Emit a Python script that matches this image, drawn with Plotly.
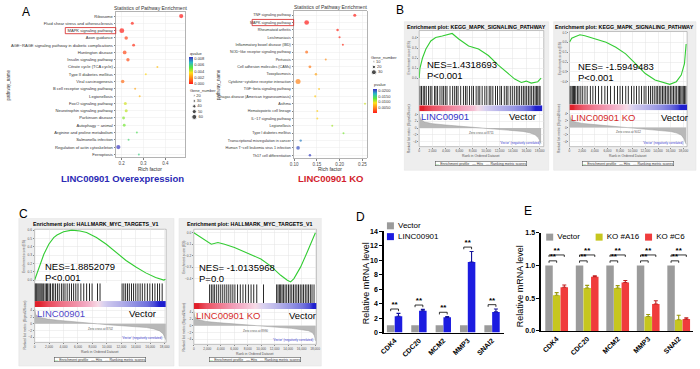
import plotly.graph_objects as go

W, H = 700, 369
FONT = "Liberation Sans, Arial, sans-serif"

# ---------------- Panel A (left): KEGG enrichment, LINC00901 overexpression ----------------
a_pathways = ["Ribosome", "Fluid shear stress and atherosclerosis", "MAPK signaling pathway", "Axon guidance",
              "AGE\u2212RAGE signaling pathway in diabetic complications", "Huntington disease",
              "Insulin signaling pathway", "Citrate cycle (TCA cycle)", "Type II diabetes mellitus",
              "Viral carcinogenesis", "B cell receptor signaling pathway", "Legionellosis",
              "FoxO signaling pathway", "Neurotrophin signaling pathway", "Parkinson disease",
              "Autophagy \u2212 animal", "Arginine and proline metabolism", "Salmonella infection",
              "Regulation of actin cytoskeleton", "Ferroptosis"]
a_rich = [0.473, 0.249, 0.201, 0.221, 0.255, 0.214, 0.229, 0.364, 0.311, 0.205,
          0.262, 0.283, 0.217, 0.221, 0.209, 0.212, 0.270, 0.232, 0.185, 0.279]
a_genes = [50, 36, 58, 42, 34, 45, 40, 14, 15, 42, 19, 16, 36, 36, 34, 34, 15, 18, 50, 13]
a_qvalue = [0.0000, 0.0002, 0.0001, 0.0007, 0.0004, 0.0008, 0.0009, 0.0030, 0.0034, 0.0014,
            0.0025, 0.0028, 0.0040, 0.0042, 0.0047, 0.0049, 0.0055, 0.0058, 0.0084, 0.0060]
a_gene_legend = [20, 30, 40, 50, 60]
a_q_ticks = [0.000, 0.002, 0.004, 0.006, 0.008]

# ---------------- Panel A (right): KEGG enrichment, LINC00901 KO ----------------
ko_pathways = ["TNF signaling pathway", "MAPK signaling pathway", "Rheumatoid arthritis", "Leishmaniasis",
               "Inflammatory bowel disease (IBD)", "NOD\u2212like receptor signaling pathway", "Pertussis",
               "Cell adhesion molecules (CAMs)", "Toxoplasmosis", "Cytokine\u2212cytokine receptor interaction",
               "TGF\u2212beta signaling pathway", "Chagas disease (American trypanosomiasis)", "Asthma",
               "Hematopoietic cell lineage", "IL\u221217 signaling pathway", "Legionellosis",
               "Type I diabetes mellitus", "Transcriptional misregulation in cancer",
               "Human T\u2212cell leukemia virus 1 infection", "Th17 cell differentiation"]
ko_rich = [0.2335, 0.1276, 0.1957, 0.2000, 0.2074, 0.1276, 0.1696, 0.1348, 0.1480, 0.1087,
           0.1550, 0.1465, 0.2560, 0.1510, 0.1510, 0.1840, 0.2087, 0.1145, 0.1087, 0.1348]
ko_genes = [18, 28, 15, 13, 12, 18, 11, 17, 15, 30, 11, 13, 6, 12, 12, 8, 7, 14, 22, 15]
ko_pvalue = [0.0003, 0.0001, 0.0005, 0.0006, 0.0008, 0.0035, 0.0050, 0.0040, 0.0060, 0.0045,
             0.0075, 0.0078, 0.0100, 0.0080, 0.0082, 0.0110, 0.0120, 0.0185, 0.0200, 0.0205]
ko_gene_legend = [10, 20, 30]
ko_p_ticks = [0.005, 0.010, 0.015, 0.020]

# ---------------- Panel B: GSEA KEGG_MAPK_SIGNALING_PATHWAY ----------------
bl_rank = [0, 100, 490, 1000, 1730, 2460, 3440, 4430, 4920, 5900, 7380, 8860, 10330, 11810,
           13280, 14270, 15250, 15990, 16730, 17710, 18200]
bl_es = [0.0, 0.094, 0.2, 0.29, 0.37, 0.405, 0.42, 0.44, 0.445, 0.39, 0.32, 0.29, 0.225, 0.13,
         0.045, -0.01, -0.043, -0.03, -0.05, -0.036, 0.0]
bl_hits = [120, 350, 600, 820, 1050, 1400, 1650, 1900, 2300, 2500, 2750, 3100, 3400, 3650, 3900,
           4150, 4600, 5000, 5300, 5550, 5800, 6200, 6600, 6900, 7150, 7500, 7850, 8100, 8500,
           8800, 9050, 9400, 9800, 10100, 10450, 10700, 11000, 11400, 11700, 12050, 12300, 12700,
           13000, 13250, 13600, 13900, 14200, 14500, 14750, 15000, 15300, 15550, 15800, 16050,
           16300, 16550, 16800, 17050, 17300, 17500, 17700, 17900, 18050]
bl_mrank = [0, 200, 800, 2000, 4000, 6000, 8000, 8700, 10000, 12000, 14000, 15500, 16500, 17300, 17800, 18200]
bl_metric = [4.2, 2.6, 1.8, 1.3, 0.9, 0.6, 0.25, 0.0, -0.2, -0.45, -0.7, -1.0, -1.4, -2.0, -2.9, -4.6]

br_rank = [0, 357, 884, 1659, 2434, 3209, 4232, 5782, 7332, 8882, 10432, 11982, 13532, 15082,
           15857, 16895, 17670, 18182, 18445]
br_es = [0.0, 0.043, 0.057, 0.077, 0.067, 0.05, 0.033, 0.0, -0.05, -0.117, -0.217, -0.317,
         -0.383, -0.417, -0.427, -0.4, -0.333, -0.217, -0.017]
br_hits = [80, 250, 450, 650, 800, 1000, 1250, 1500, 1800, 2100, 2450, 2800, 3300, 3700, 4100,
           4600, 5100, 5600, 6000, 6500, 7100, 7600, 8000, 8400, 8900, 9300, 9800, 10200, 10600,
           11000, 11400, 11800, 12100, 12500, 12800, 13100, 13400, 13700, 13950, 14200, 14450,
           14700, 14950, 15200, 15450, 15700, 15950, 16200, 16450, 16700, 16950, 17200, 17400,
           17600, 17800, 18000, 18200, 18400]
br_mrank = [0, 200, 800, 2000, 4000, 6000, 8000, 9000, 10500, 12500, 14500, 16000, 17000, 17700, 18100, 18450]
br_metric = [4.0, 2.5, 1.7, 1.2, 0.85, 0.55, 0.2, 0.0, -0.25, -0.5, -0.8, -1.15, -1.6, -2.2, -3.2, -4.8]

# ---------------- Panel C: GSEA HALLMARK_MYC_TARGETS_V1 ----------------
cl_rank = [0, 592, 1274, 1957, 2639, 3094, 4004, 5142, 6279, 7189, 8554, 9919, 11284, 12649,
           14014, 15379, 16744, 17882, 18109]
cl_es = [0.0, 0.157, 0.31, 0.43, 0.51, 0.54, 0.58, 0.60, 0.59, 0.57, 0.51, 0.43, 0.33, 0.235,
         0.157, 0.086, 0.03, 0.0, 0.01]
cl_hits = [60, 180, 300, 450, 600, 750, 900, 1050, 1250, 1450, 1650, 1800, 2000, 2200, 2450, 2650,
           2900, 3150, 3400, 3700, 3950, 4200, 4500, 4800, 5100, 5400, 5700, 6000, 6400, 6800,
           7200, 7600, 7950, 8700, 9050, 12100, 12350, 12600, 12850, 13100, 13400, 13700, 14000,
           14300, 14600, 14900, 15250, 15600, 15950, 16300, 16650, 17000, 17300, 17650]
cl_mrank = [0, 150, 700, 1800, 3500, 5500, 7500, 8700, 10000, 12000, 14000, 15500, 16500, 17300, 17800, 18150]
cl_metric = [4.5, 2.7, 1.9, 1.4, 1.0, 0.7, 0.35, 0.0, -0.25, -0.5, -0.8, -1.1, -1.5, -2.1, -3.0, -4.7]

cr_rank = [0, 1128, 2110, 2600, 3581, 4563, 6034, 7997, 9959, 11431, 12903, 13884, 14375,
           14866, 15847, 16828, 17564, 18054]
cr_es = [0.0, -0.043, -0.086, -0.1, -0.086, -0.1, -0.129, -0.177, -0.229, -0.291, -0.371,
         -0.414, -0.429, -0.4, -0.3, -0.171, -0.071, 0.0]
cr_hits = [2350, 2600, 2850, 3100, 3400, 3700, 4000, 4300, 4600, 4900, 5200, 5500, 5800, 6100,
           6500, 6900, 7300, 7700, 8100, 8500, 8900, 9350, 10350, 12300, 12500, 12700, 12900,
           13100, 13300, 13550, 13800, 14050, 14300, 14550, 14800, 15050, 15300, 15550, 15800,
           16050, 16300, 16550, 16800, 17050, 17300, 17550, 17850]
cr_mrank = [0, 150, 700, 1800, 3500, 5500, 7500, 9000, 10500, 12500, 14500, 16000, 17000, 17600, 17900, 18100]
cr_metric = [4.3, 2.6, 1.8, 1.3, 0.95, 0.6, 0.3, 0.0, -0.2, -0.45, -0.75, -1.05, -1.45, -2.0, -2.9, -4.5]

rank_ticks = [0, 2000, 4000, 6000, 8000, 10000, 12000, 14000, 16000, 18000]
metric_ticks = [-4, -2, 0, 2, 4]

# ---------------- Panels D / E: qPCR ----------------
qpcr_genes = ["CDK4", "CDC20", "MCM2", "MMP3", "SNAI2"]
d_series = ["Vector", "LINC00901"]
d_vector = [1.0, 1.0, 1.0, 1.0, 1.0]
d_linc = [2.25, 3.0, 2.1, 9.75, 2.85]
d_linc_err = [0.4, 0.2, 0.1, 1.45, 0.4]
d_ticks = [0, 2, 4, 6, 8, 10, 12, 14]
e_series = ["Vector", "KO #A16", "KO #C6"]
e_vector = [1.0, 1.0, 1.0, 1.0, 1.0]
e_a16 = [0.545, 0.656, 0.656, 0.22, 0.17]
e_a16_err = [0.04, 0.04, 0.035, 0.03, 0.07]
e_c6 = [0.667, 0.827, 0.74, 0.41, 0.18]
e_c6_err = [0.035, 0.015, 0.03, 0.05, 0.02]
e_ticks = [0.0, 0.5, 1.0, 1.5]

# ---------------- styles ----------------
DOT_CS = [[0.0, "#ff1a1a"], [0.2, "#ff7f1a"], [0.42, "#ffe01a"], [0.6, "#5ee83a"],
          [0.8, "#2bb8c8"], [1.0, "#3a2fc0"]]
GRAD_CS = [[0.0, "#1f1fcf"], [0.3, "#8c8ce2"], [0.46, "#d9d2f0"], [0.5, "#f7dbe7"],
           [0.62, "#f2a6c0"], [0.8, "#ec5a6c"], [1.0, "#e0202a"]]
GRAY, BLUE, YEL, RED = "#9b9b9b", "#1c1ce0", "#c6c61e", "#f03c3c"

fig = go.Figure()
axes = {}
count = [0]
annotations = []
shapes = []


def new_axes(x0, y0, x1, y1, xa=None, ya=None):
    count[0] += 1
    i = count[0]
    s = "" if i == 1 else str(i)
    base = dict(showgrid=False, zeroline=False, showticklabels=False, ticks="", showline=False,
                fixedrange=True)
    xd = dict(base, domain=[x0 / W, x1 / W], anchor="y" + s)
    yd = dict(base, domain=[1 - y1 / H, 1 - y0 / H], anchor="x" + s)
    if xa:
        xd.update(xa)
    if ya:
        yd.update(ya)
    axes["xaxis" + s] = xd
    axes["yaxis" + s] = yd
    return "x" + s, "y" + s


def text(x, y, s, size, color="black", bold=False, angle=0, xanchor="center", yanchor="middle", **kw):
    if bold:
        s = "<b>" + s + "</b>"
    d = dict(x=x / W, y=1 - y / H, xref="paper", yref="paper", text=s, showarrow=False,
             font=dict(size=size, color=color, family=FONT), textangle=angle,
             xanchor=xanchor, yanchor=yanchor, borderpad=0)
    d.update(kw)
    annotations.append(d)


# ================= Dot plots =================
def dot_plot(box, paths, rich, genes, pv, xr, xticks, sizeref, cmax, lab_font, cb_box, cticks, cfmt,
             box_x0, leg_box, leg_vals, leg_range):
    grid = dict(showgrid=True, gridcolor="#ebebeb", gridwidth=0.5, showline=True, linecolor="#808080",
                linewidth=0.6, mirror=True, ticks="outside", ticklen=1.5, tickcolor="#808080")
    xa, ya = new_axes(*box,
                      xa=dict(grid, range=xr, tickvals=xticks, showticklabels=True,
                              tickfont=dict(size=4.5, color="#4d4d4d", family=FONT)),
                      ya=dict(grid, type="category", categoryorder="array", categoryarray=paths[::-1],
                              range=[-0.42, len(paths) - 0.42], showticklabels=True,
                              tickfont=dict(size=lab_font, color="#333333", family=FONT)))
    cx0, cy0, cx1, cy1 = cb_box
    fig.add_trace(go.Scatter(
        x=rich, y=paths, mode="markers", xaxis=xa, yaxis=ya,
        marker=dict(size=genes, sizemode="diameter", sizeref=sizeref, sizemin=1, color=pv, cmin=0,
                    cmax=cmax, colorscale=DOT_CS, line=dict(width=0), showscale=True,
                    colorbar=dict(x=cx0 / W, xanchor="left", y=1 - (cy0 + cy1) / 2 / H, yanchor="middle",
                                  len=cy1 - cy0, lenmode="pixels", thickness=cx1 - cx0, xpad=0, ypad=0,
                                  outlinewidth=0, tickvals=cticks, tickformat=cfmt, ticks="",
                                  tickfont=dict(size=4, color="#333333", family=FONT)))))
    idx = len(paths) - 1 - paths.index("MAPK signaling pathway")
    shapes.append(dict(type="rect", xref="paper", yref=ya, x0=box_x0 / W, x1=box[0] / W,
                       y0=idx - 0.42, y1=idx + 0.42, line=dict(color="#d42020", width=0.8)))
    lx, ly = new_axes(*leg_box, xa=dict(range=[-1, 5]), ya=dict(range=leg_range))
    fig.add_trace(go.Scatter(x=[0] * len(leg_vals), y=leg_vals, mode="markers+text", xaxis=lx, yaxis=ly,
                             text=[str(v) for v in leg_vals], textposition="middle right",
                             textfont=dict(size=4, color="#333333", family=FONT), cliponaxis=False,
                             marker=dict(size=leg_vals, sizemode="diameter", sizeref=sizeref,
                                         color="black")))


dot_plot((113, 9, 183, 157), a_pathways, a_rich, a_genes, a_qvalue, [0.173, 0.49], [0.2, 0.3, 0.4],
         12, 0.0085, 4.1, (187, 55, 191, 82), a_q_ticks, ".3f", 62, (188, 91.5, 215, 118.5),
         a_gene_legend, [65, 15])
dot_plot((293, 8, 367, 158), ko_pathways, ko_rich, ko_genes, ko_pvalue, [0.099, 0.26],
         [0.10, 0.15, 0.20, 0.25], 6, 0.021, 3.7, (373, 88, 376.5, 112), ko_p_ticks, ".4f", 251,
         (370, 57, 395, 73), ko_gene_legend, [35, 5])
axes["xaxis3"]["tickformat"] = ".2f"

text(148, 5, "Statistics of Pathway Enrichment", 5, color="#333333")
text(330, 4, "Statistics of Pathway Enrichment", 5, color="#333333")
text(148, 168.5, "Rich factor", 5, color="#333333")
text(330, 168.5, "Rich factor", 5, color="#333333")
text(5, 83, "pathway_name", 4.5, color="#333333", angle=-90)
text(217, 83, "pathway_name", 4.5, color="#333333", angle=-90)
text(187, 51, "qvalue", 4, color="#333333", xanchor="left")
text(187, 89, "Gene_number", 4, color="#333333", xanchor="left")
text(370, 55, "Gene_number", 4, color="#333333", xanchor="left")
text(373, 83, "pvalue", 4, color="#333333", xanchor="left")
text(120, 178, "LINC00901 Overexpression", 9.5, color="#2a2ab4", bold=True)
text(330, 178, "LINC00901 KO", 9.5, color="#d21e2d", bold=True)


# ================= GSEA panels =================
def gsea(frame, px0, px1, ys, xmax, title, es_r, es_v, es_range, es_ticks, hits, m_r, m_v,
         left_lab, left_col, nes, pval, nes_x, nes_y, lab_y, vec_x, zero_txt):
    fx0, fy0, fx1, fy1 = frame
    y0, yh, yg, yr0, yr1 = ys
    shapes.append(dict(type="rect", xref="paper", yref="paper", x0=fx0 / W, x1=fx1 / W,
                       y0=1 - fy1 / H, y1=1 - fy0 / H, fillcolor="#eeeeee",
                       line=dict(color="#e2e2e2", width=0.5), layer="below"))
    shapes.append(dict(type="rect", xref="paper", yref="paper", x0=px0 / W, x1=px1 / W,
                       y0=1 - yr1 / H, y1=1 - y0 / H, fillcolor="white",
                       line=dict(color="#8a8a8a", width=0.5), layer="below"))
    small = dict(size=3.2, color="#555555", family=FONT)
    gridk = dict(showgrid=True, gridcolor="#e4e4e4", gridwidth=0.5)
    xa, ya = new_axes(px0, y0, px1, yh, xa=dict(gridk, range=[0, xmax], tickvals=rank_ticks),
                      ya=dict(gridk, range=es_range, tickvals=es_ticks, tickformat=".1f",
                              showticklabels=True, tickfont=small, ticks="outside", ticklen=1,
                              tickcolor="#888888"))
    fig.add_trace(go.Scatter(x=es_r, y=es_v, mode="lines", line=dict(color="#33cc33", width=1.1),
                             xaxis=xa, yaxis=ya))
    xa, ya = new_axes(px0, yh, px1, yg, xa=dict(range=[0, xmax]), ya=dict(range=[0, 1]))
    fig.add_trace(go.Bar(x=hits, y=[1] * len(hits), width=xmax / (px1 - px0) * 0.9,
                         marker=dict(color="#111111", line=dict(width=0)), xaxis=xa, yaxis=ya))
    xa, ya = new_axes(px0, yg, px1, yr0, xa=dict(range=[0, xmax]), ya=dict(range=[-0.5, 1.5]))
    fig.add_trace(go.Heatmap(x=m_r, y=[0, 1], z=[m_v, m_v], zmin=-2, zmax=2, colorscale=GRAD_CS,
                             showscale=False, zsmooth="best", xaxis=xa, yaxis=ya))
    xa, ya = new_axes(px0, yr0, px1, yr1,
                      xa=dict(gridk, range=[0, xmax], tickvals=rank_ticks, tickformat=",d",
                              showticklabels=True, tickfont=small, ticks="outside", ticklen=1,
                              tickcolor="#888888"),
                      ya=dict(gridk, range=[-5.5, 5], tickvals=metric_ticks, showticklabels=True,
                              tickfont=small, ticks="outside", ticklen=1, tickcolor="#888888"))
    fig.add_trace(go.Scatter(x=m_r, y=m_v, mode="lines", fill="tozeroy", fillcolor="#b8b8b8",
                             line=dict(color="#9a9a9a", width=0.5), xaxis=xa, yaxis=ya))
    cx = (px0 + px1) / 2
    text((fx0 + fx1) / 2, fy0 + 5.5, title, 5.3, bold=True)
    text(px0 - 10, (y0 + yh) / 2, "Enrichment score (ES)", 3.3, color="#555555", angle=-90)
    text(px0 - 10, (yr0 + yr1) / 2, "Ranked list metric (Signal2Noise)", 3.3, color="#555555", angle=-90)
    text(cx, yr1 + 9.5, "Rank in Ordered Dataset", 3.4, color="#555555")
    text(cx, (yr0 + yr1) / 2 + 4, zero_txt, 3, color="#555555")
    text(px1 - 24, yr1 - 4, "'Vector' (negatively correlated)", 3, color="#3a3ad0")
    text(cx, fy1 - 6.5,
         "<span style='color:#33cc33'>\u2014</span> Enrichment profile   \u2014 Hits   "
         "<span style='color:#aaaaaa'>\u2014</span> Ranking metric scores",
         3.6, color="#333333", bgcolor="white", bordercolor="#555555", borderwidth=0.6)
    text(nes_x, nes_y, nes, 9.5, xanchor="left")
    text(nes_x, nes_y + 11, pval, 9.5, xanchor="left")
    text(px0 + 1, lab_y, left_lab, 9.5, color=left_col, xanchor="left")
    text(vec_x, lab_y, "Vector", 9.5, xanchor="left")


gsea((405, 19, 551, 170), 420, 546, (28, 84, 104, 110, 146), 18600,
     "Enrichment plot: KEGG_MAPK_SIGNALING_PATHWAY", bl_rank, bl_es, [-0.075, 0.474],
     [0.0, 0.1, 0.2, 0.3, 0.4], bl_hits, bl_mrank, bl_metric, "LINC00901", "#3232c8",
     "NES=1.4318693", "P<0.001", 427, 63, 115, 510, "Zero cross at 8711")
gsea((556, 19, 700, 170), 572, 691, (29, 84, 103, 109, 146), 18600,
     "Enrichment plot: KEGG_MAPK_SIGNALING_PATHWAY", br_rank, br_es, [-0.44, 0.11],
     [0.1, 0.0, -0.1, -0.2, -0.3, -0.4], br_hits, br_mrank, br_metric, "LINC00901 KO", "#d42a2a",
     "NES= -1.5949483", "P<0.001", 580, 65, 116, 664, "Zero cross at 9012")
gsea((15, 219, 172, 369), 31, 164, (230, 285, 303, 309, 345), 18200,
     "Enrichment plot: HALLMARK_MYC_TARGETS_V1", cl_rank, cl_es, [-0.04, 0.61],
     [0.0, 0.1, 0.2, 0.3, 0.4, 0.5, 0.6], cl_hits, cl_mrank, cl_metric, "LINC00901", "#5048c8",
     "NES=1.8852079", "P<0.001", 40, 268, 316, 125, "Zero cross at 8702")
gsea((177, 219, 321, 369), 192, 316, (230, 286, 305, 311, 347), 18200,
     "Enrichment plot: HALLMARK_MYC_TARGETS_V1", cr_rank, cr_es, [-0.45, 0.03],
     [0.0, -0.1, -0.2, -0.3, -0.4], cr_hits, cr_mrank, cr_metric, "LINC00901 KO", "#d42a2a",
     "NES= -1.0135968", "P=0.0", 196, 269, 318, 287, "Zero cross at 8990")

# ================= Panel D =================
axk = dict(showline=True, linecolor="black", linewidth=1.3, ticks="outside", ticklen=3, tickwidth=1.1,
           tickcolor="black", showticklabels=True)
tfont = dict(size=7, color="black", family=FONT, weight="bold")
gidx = list(range(len(qpcr_genes)))
dx, dy = new_axes(384, 231.7, 506, 335,
                  xa=dict(axk, range=[-0.45, 4.5], tickvals=gidx, ticktext=qpcr_genes, tickangle=-45,
                          tickfont=tfont, ticks=""),
                  ya=dict(axk, range=[0, 14.03], tickvals=d_ticks, tickfont=tfont))
off_d = 0.16
fig.add_trace(go.Bar(x=[g - off_d for g in gidx], y=d_vector, width=0.31, marker=dict(color=GRAY, line=dict(width=0)),
                     xaxis=dx, yaxis=dy))
fig.add_trace(go.Bar(x=[g + off_d for g in gidx], y=d_linc, width=0.31, marker=dict(color=BLUE, line=dict(width=0)),
                     error_y=dict(type="data", array=d_linc_err, arrayminus=[0] * 5, symmetric=False,
                                  color="#14149a", thickness=1.1, width=2),
                     xaxis=dx, yaxis=dy))
bx, by, sx, sy = [], [], [], []
for g in gidx:
    h = max(d_vector[g], d_linc[g] + d_linc_err[g]) + 0.6
    bx += [g - off_d, g - off_d, g + off_d, g + off_d, None]
    by += [h - 0.3, h, h, h - 0.3, None]
    sx.append(g)
    sy.append(h)
fig.add_trace(go.Scatter(x=bx, y=by, mode="lines", line=dict(color="black", width=0.8), xaxis=dx, yaxis=dy,
                         cliponaxis=False))
fig.add_trace(go.Scatter(x=sx, y=sy, mode="text", text=["**"] * len(sx), textposition="top center",
                         cliponaxis=False,
                         textfont=dict(size=8, color="black", family=FONT, weight="bold"), xaxis=dx, yaxis=dy))
lx, ly = new_axes(386, 221, 440, 243, xa=dict(range=[-0.2, 2]), ya=dict(range=[-0.5, 1.5]))
fig.add_trace(go.Scatter(x=[0, 0], y=[1, 0], mode="markers+text", text=[" " + s for s in d_series],
                         textposition="middle right", textfont=dict(size=8, color="black", family=FONT),
                         cliponaxis=False,
                         marker=dict(symbol="square", size=7, color=[GRAY, BLUE]), xaxis=lx, yaxis=ly))
text(367, 285, "Relative mRNA level", 9, angle=-90)
text(361, 218, "D", 12)

# ================= Panel E =================
ex, ey = new_axes(543, 233.3, 697, 333.3,
                  xa=dict(axk, range=[-0.52, 4.47], tickvals=gidx, ticktext=qpcr_genes, tickangle=-45,
                          tickfont=tfont, ticks=""),
                  ya=dict(axk, range=[0, 1.503], tickvals=e_ticks, tickformat=".1f", tickfont=tfont))
off_e = 0.25
fig.add_trace(go.Bar(x=[g - off_e for g in gidx], y=e_vector, width=0.245, marker=dict(color=GRAY, line=dict(width=0)),
                     xaxis=ex, yaxis=ey))
fig.add_trace(go.Bar(x=gidx, y=e_a16, width=0.245, marker=dict(color=YEL, line=dict(width=0)),
                     error_y=dict(type="data", array=e_a16_err, arrayminus=[0] * 5, symmetric=False,
                                  color="#9a9a10", thickness=1.1, width=2),
                     xaxis=ex, yaxis=ey))
fig.add_trace(go.Bar(x=[g + off_e for g in gidx], y=e_c6, width=0.245, marker=dict(color=RED, line=dict(width=0)),
                     error_y=dict(type="data", array=e_c6_err, arrayminus=[0] * 5, symmetric=False,
                                  color="#c02020", thickness=1.1, width=2),
                     xaxis=ex, yaxis=ey))
bx, by, sx, sy = [], [], [], []
for g in gidx:
    hu = e_vector[g] + 0.16
    hl = e_vector[g] + 0.07
    bx += [g - off_e, g - off_e, g + off_e, g + off_e, None, g - off_e, g - off_e, g, g, None]
    by += [hu - 0.03, hu, hu, hu - 0.03, None, hl - 0.03, hl, hl, hl - 0.03, None]
    sx += [g, g - off_e / 2]
    sy += [hu, hl]
fig.add_trace(go.Scatter(x=bx, y=by, mode="lines", line=dict(color="black", width=0.8), xaxis=ex, yaxis=ey))
fig.add_trace(go.Scatter(x=sx, y=sy, mode="text", text=["**"] * len(sx), textposition="top center",
                         cliponaxis=False,
                         textfont=dict(size=8, color="black", family=FONT, weight="bold"), xaxis=ex, yaxis=ey))
lx, ly = new_axes(545, 232, 700, 244, xa=dict(range=[-0.14, 2.96]), ya=dict(range=[-1, 1]))
fig.add_trace(go.Scatter(x=list(range(len(e_series))), y=[0] * len(e_series), mode="markers+text",
                         text=[" " + s for s in e_series], textposition="middle right",
                         textfont=dict(size=8, color="black", family=FONT), cliponaxis=False,
                         marker=dict(symbol="square", size=7, color=[GRAY, YEL, RED]), xaxis=lx, yaxis=ly))
text(522, 288, "Relative mRNA level", 9, angle=-90)
text(530, 211, "E", 12)

# panel letters
text(22, 9, "A", 12)
text(401, 7, "B", 12)
text(20, 214, "C", 12)

fig.update_layout(width=W, height=H, margin=dict(l=0, r=0, t=0, b=0), paper_bgcolor="white",
                  plot_bgcolor="rgba(0,0,0,0)", showlegend=False, barmode="overlay",
                  font=dict(family=FONT, color="black"), annotations=annotations, shapes=shapes, **axes)
fig.write_html("out.html", config={"displayModeBar": False, "staticPlot": True},
               post_script="document.body.style.margin='0px';document.body.style.overflow='hidden';")
